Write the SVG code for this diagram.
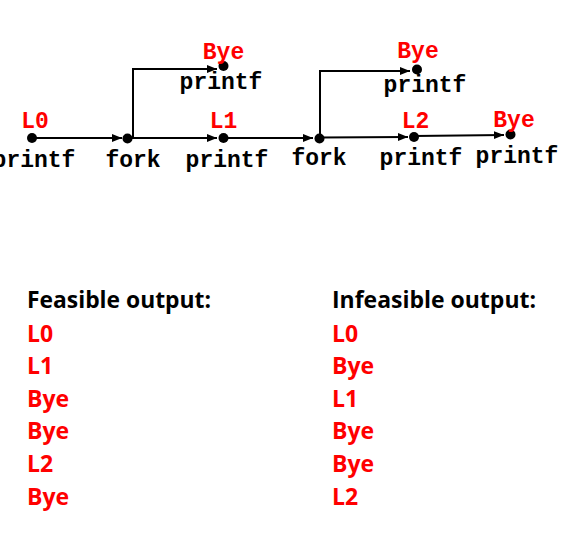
<svg xmlns="http://www.w3.org/2000/svg" width="572" height="543" viewBox="0 0 572 543">
<style>
.mono{font-family:"Liberation Mono","Courier New",monospace;font-weight:bold;font-size:23px;text-anchor:middle}
.blk{fill:#000}
.red{fill:#ff0000}
.out{font-family:"Open Sans","Noto Sans",sans-serif;font-weight:700;font-size:23px}
.edge{fill:none;stroke:#000;stroke-width:2}
.dot{fill:#000}
</style>
<defs>
<marker id="arr" markerUnits="userSpaceOnUse" markerWidth="11" markerHeight="9" refX="10" refY="4" orient="auto">
<path d="M0,0 L10,4 L0,8 z" fill="#000"/>
</marker>
</defs>
<rect width="572" height="543" fill="#fff"/>
<g id="connectors">
<path class="edge" d="M32,138 H122" marker-end="url(#arr)"/>
<path class="edge" d="M128,138 H217" marker-end="url(#arr)"/>
<path class="edge" d="M133,138 V69 H217" marker-end="url(#arr)"/>
<path class="edge" d="M223,138 H313" marker-end="url(#arr)"/>
<path class="edge" d="M320,138 V71 H410" marker-end="url(#arr)"/>
<path class="edge" d="M320,137.5 L408,137" marker-end="url(#arr)"/>
<path class="edge" d="M414,136 L504,135" marker-end="url(#arr)"/>
</g>
<g id="n-l0">
<circle class="dot" cx="32" cy="138" r="5"/>
<text class="mono red" x="35" y="128">L0</text>
<text class="mono blk" x="34" y="167">printf</text>
</g>
<g id="n-fork1">
<circle class="dot" cx="127.5" cy="138.5" r="5"/>
<text class="mono blk" x="133" y="167">fork</text>
</g>
<g id="n-bye1">
<circle class="dot" cx="223.5" cy="66" r="5"/>
<text class="mono red" x="223.5" y="59">Bye</text>
<text class="mono blk" x="221" y="89">printf</text>
</g>
<g id="n-l1">
<circle class="dot" cx="223.5" cy="138" r="5"/>
<text class="mono red" x="223.5" y="128">L1</text>
<text class="mono blk" x="227" y="167">printf</text>
</g>
<g id="n-fork2">
<circle class="dot" cx="319.5" cy="138.5" r="5"/>
<text class="mono blk" x="319" y="165">fork</text>
</g>
<g id="n-bye2">
<circle class="dot" cx="417" cy="69.5" r="5"/>
<text class="mono red" x="418" y="58">Bye</text>
<text class="mono blk" x="425" y="92">printf</text>
</g>
<g id="n-l2">
<circle class="dot" cx="414" cy="137" r="5"/>
<text class="mono red" x="415.5" y="128">L2</text>
<text class="mono blk" x="421" y="165">printf</text>
</g>
<g id="n-bye3">
<circle class="dot" cx="510.5" cy="134.5" r="5"/>
<text class="mono red" x="514" y="127">Bye</text>
<text class="mono blk" x="517" y="163">printf</text>
</g>
<g id="feasible">
<text class="out blk" x="27" y="308" textLength="184" lengthAdjust="spacingAndGlyphs">Feasible output:</text>
<text class="out red" x="27" y="342">L0</text>
<text class="out red" x="27" y="374">L1</text>
<text class="out red" x="27" y="407">Bye</text>
<text class="out red" x="27" y="439">Bye</text>
<text class="out red" x="27" y="472">L2</text>
<text class="out red" x="27" y="505">Bye</text>
</g>
<g id="infeasible">
<text class="out blk" x="332" y="308" textLength="204" lengthAdjust="spacingAndGlyphs">Infeasible output:</text>
<text class="out red" x="332" y="342">L0</text>
<text class="out red" x="332" y="374">Bye</text>
<text class="out red" x="332" y="407">L1</text>
<text class="out red" x="332" y="439">Bye</text>
<text class="out red" x="332" y="472">Bye</text>
<text class="out red" x="332" y="505">L2</text>
</g>
</svg>
